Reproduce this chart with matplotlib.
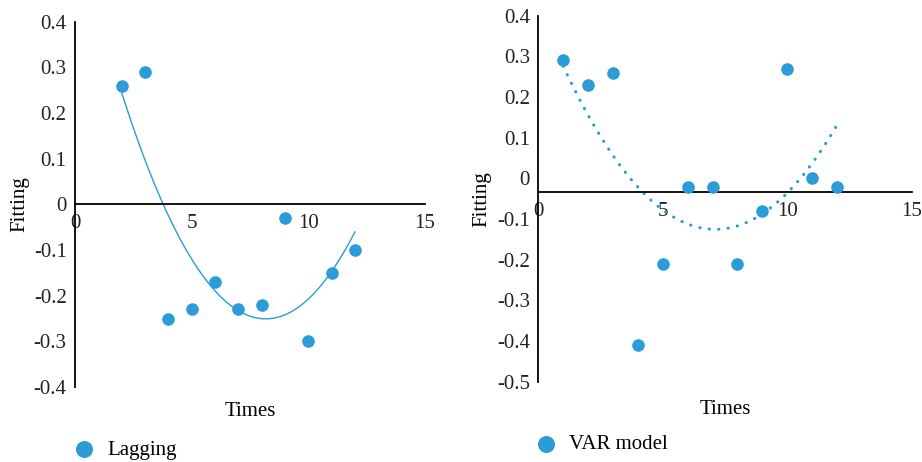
import numpy as np
import matplotlib
matplotlib.use("Agg")
import matplotlib.pyplot as plt

# data
lag_times = [2, 3, 4, 5, 6, 7, 8, 9, 10, 11, 12]
lag_fit = [0.26, 0.29, -0.25, -0.23, -0.17, -0.23, -0.22, -0.03, -0.30, -0.15, -0.10]

var_times = [1, 2, 3, 4, 5, 6, 7, 8, 9, 10, 11, 12]
var_fit = [0.29, 0.23, 0.26, -0.41, -0.21, -0.02, -0.02, -0.21, -0.08, 0.27, 0.0, -0.02]

lag_yticks = [0.4, 0.3, 0.2, 0.1, 0, -0.1, -0.2, -0.3, -0.4]
var_yticks = [0.4, 0.3, 0.2, 0.1, 0, -0.1, -0.2, -0.3, -0.4, -0.5]
xticks = [0, 5, 10, 15]

BLUE = "#2b9cd8"

plt.rcParams["font.family"] = ["Liberation Serif", "DejaVu Serif"]
plt.rcParams["font.size"] = 15


def fmt(v):
    if v == 0:
        return "0"
    return f"{v:.1f}"


def panel(ax, times, fit, yticks, ylim, xaxis_at, label, linestyle, lw):
    ax.scatter(times, fit, s=82, color=BLUE, zorder=3, label=label, linewidths=0)

    coef = np.polyfit(times, fit, 2)
    xs = np.linspace(times[0], times[-1], 200)
    ax.plot(xs, np.polyval(coef, xs), color=BLUE, lw=lw, linestyle=linestyle,
            dash_capstyle="round", zorder=2)

    ax.set_xlim(0, 15)
    ax.set_ylim(*ylim)
    ax.set_xticks(xticks)
    ax.set_xticklabels([str(t) for t in xticks])
    ax.set_yticks(yticks)
    ax.set_yticklabels([fmt(t) for t in yticks])

    for side in ["top", "right"]:
        ax.spines[side].set_visible(False)
    ax.spines["left"].set_position(("data", 0))
    ax.spines["bottom"].set_position(("data", xaxis_at))
    ax.spines["left"].set_linewidth(1.3)
    ax.spines["bottom"].set_linewidth(1.3)
    ax.tick_params(axis="both", length=0, colors="#222222")
    ax.tick_params(axis="y", pad=6)
    ax.tick_params(axis="x", pad=7)
    ax.patch.set_visible(False)


fig = plt.figure(figsize=(9.22, 4.62), dpi=100)

ax1 = fig.add_axes([0.0813, 0.1623, 0.3796, 0.7907])
panel(ax1, lag_times, lag_fit, lag_yticks, (-0.4, 0.4), 0, "Lagging", "-", 1.0)
ax1.set_ylabel("Fitting")
ax1.yaxis.set_label_coords(-0.13, 0.5)
ax1.set_xlabel("Times")
ax1.xaxis.set_label_coords(0.5, -0.04)
ax1.legend(loc="center left", bbox_to_anchor=(-0.033, -0.172), frameon=False,
           markerscale=1.35, handletextpad=0.1, borderaxespad=0, borderpad=0)

ax2 = fig.add_axes([0.5838, 0.1738, 0.4051, 0.7922])
panel(ax2, var_times, var_fit, var_yticks, (-0.5, 0.4), -0.034, "VAR model",
      (0, (0.1, 3)), 2.2)
ax2.set_ylabel("Fitting")
ax2.yaxis.set_label_coords(-0.125, 0.5)
ax2.set_xlabel("Times")
ax2.xaxis.set_label_coords(0.5, -0.05)
ax2.legend(loc="center left", bbox_to_anchor=(-0.034, -0.172), frameon=False,
           markerscale=1.35, handletextpad=0.1, borderaxespad=0, borderpad=0)

fig.savefig("out.png", dpi=100)
